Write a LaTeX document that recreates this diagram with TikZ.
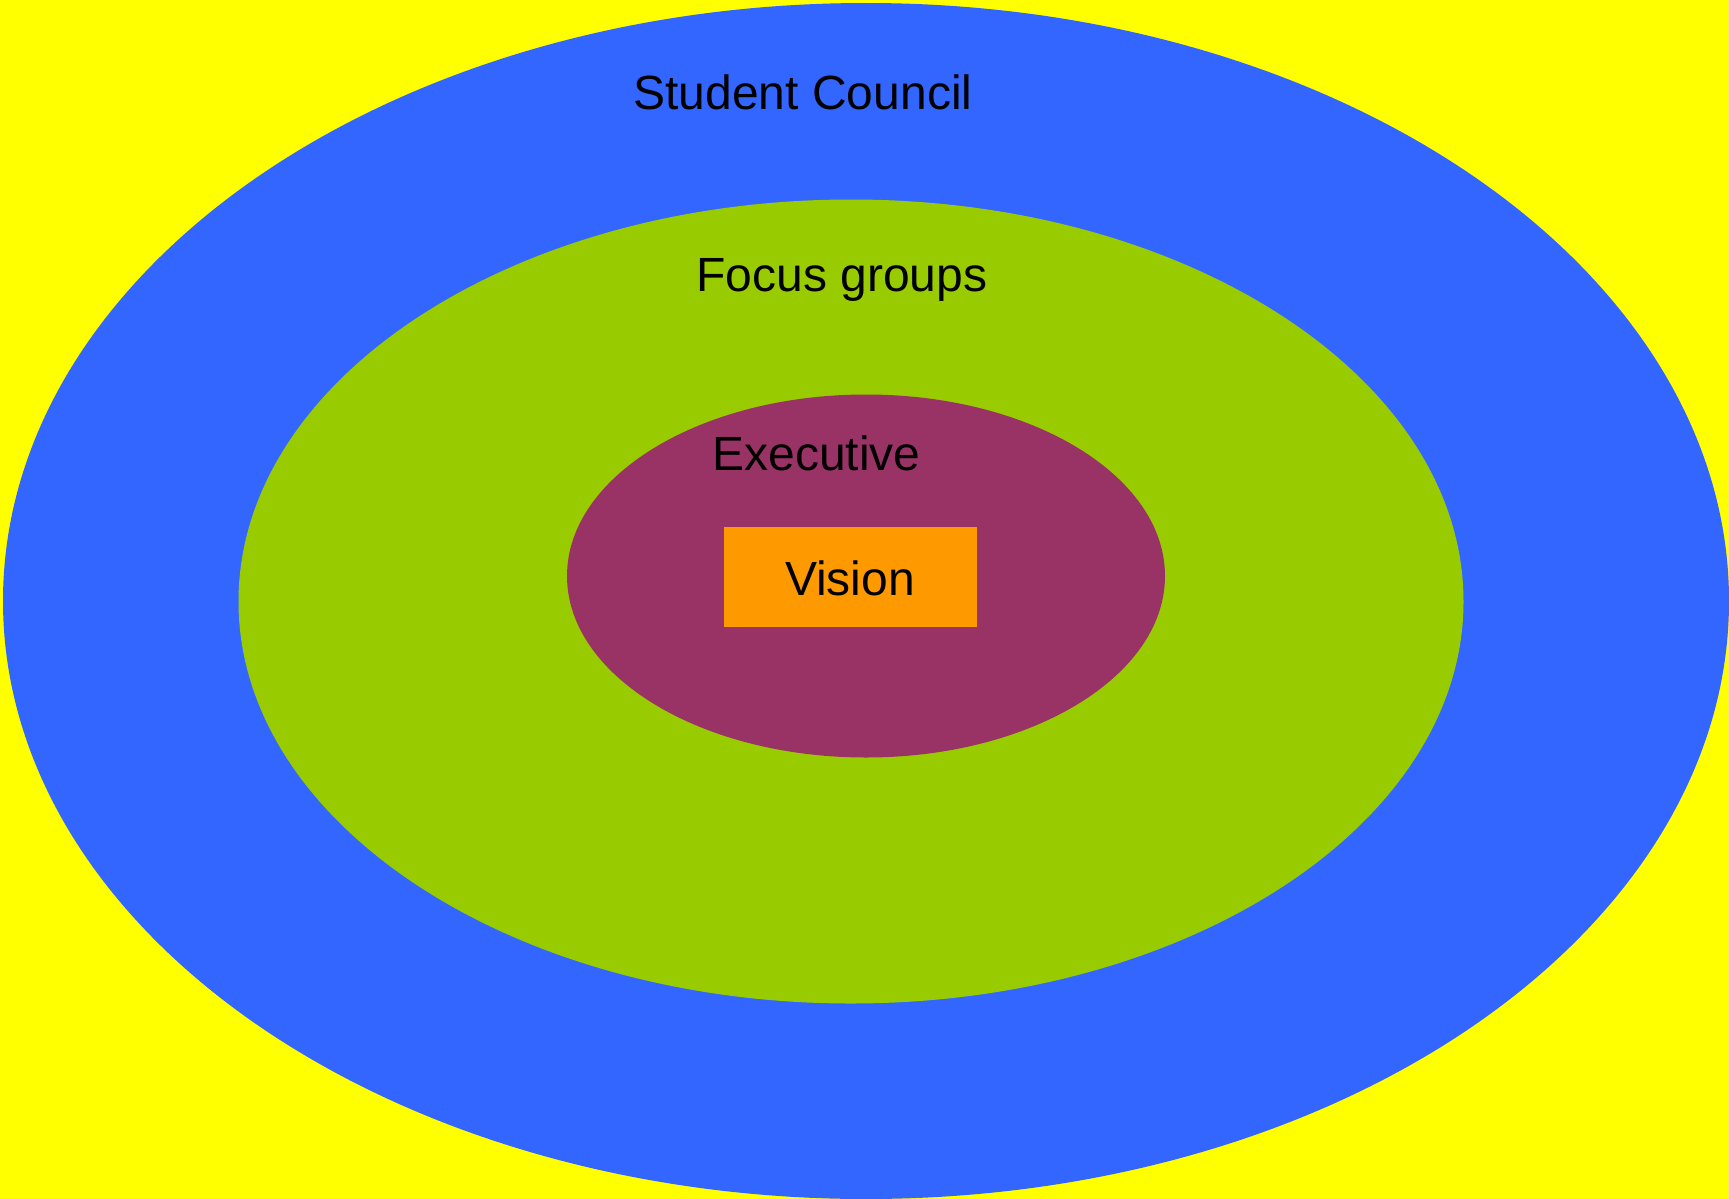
\documentclass[tikz,border=0pt]{standalone}
\usepackage{fontspec}
\setmainfont{Liberation Sans}
\usetikzlibrary{shapes.geometric}
\definecolor{bgyellow}{HTML}{FFFF00}
\definecolor{cblue}{HTML}{3366FF}
\definecolor{cgreen}{HTML}{99CC00}
\definecolor{cmaroon}{HTML}{993366}
\definecolor{corange}{HTML}{FF9900}
\begin{document}
\begin{tikzpicture}[x=1pt,y=-1pt,
  ring/.style={ellipse, inner sep=0pt, draw=none},
  lbl/.style={anchor=base, inner sep=0pt, font=\fontsize{48}{58}\selectfont, text=black}]
\fill[bgyellow] (0,0) rectangle (1729,1199);
\useasboundingbox (0,0) rectangle (1729,1199);
\node[ring, fill=cblue, minimum width=1726pt, minimum height=1196pt] (council) at (866,601) {};
\node[ring, fill=cgreen, minimum width=1225pt, minimum height=804pt] (focus) at (851,601.5) {};
\node[ring, fill=cmaroon, minimum width=598pt, minimum height=363pt] (exec) at (866,576) {};
\node[rectangle, fill=corange, inner sep=0pt, minimum width=253pt, minimum height=100pt] (visionbox) at (850.5,577) {};
\node[lbl] (tcouncil) at (803,110) {Student Council};
\node[lbl] (tfocus) at (842,291) {Focus groups};
\node[lbl] (texec) at (816.5,470.7) {Executive};
\node[lbl] (tvision) at (850,595) {Vision};
\end{tikzpicture}
\end{document}
